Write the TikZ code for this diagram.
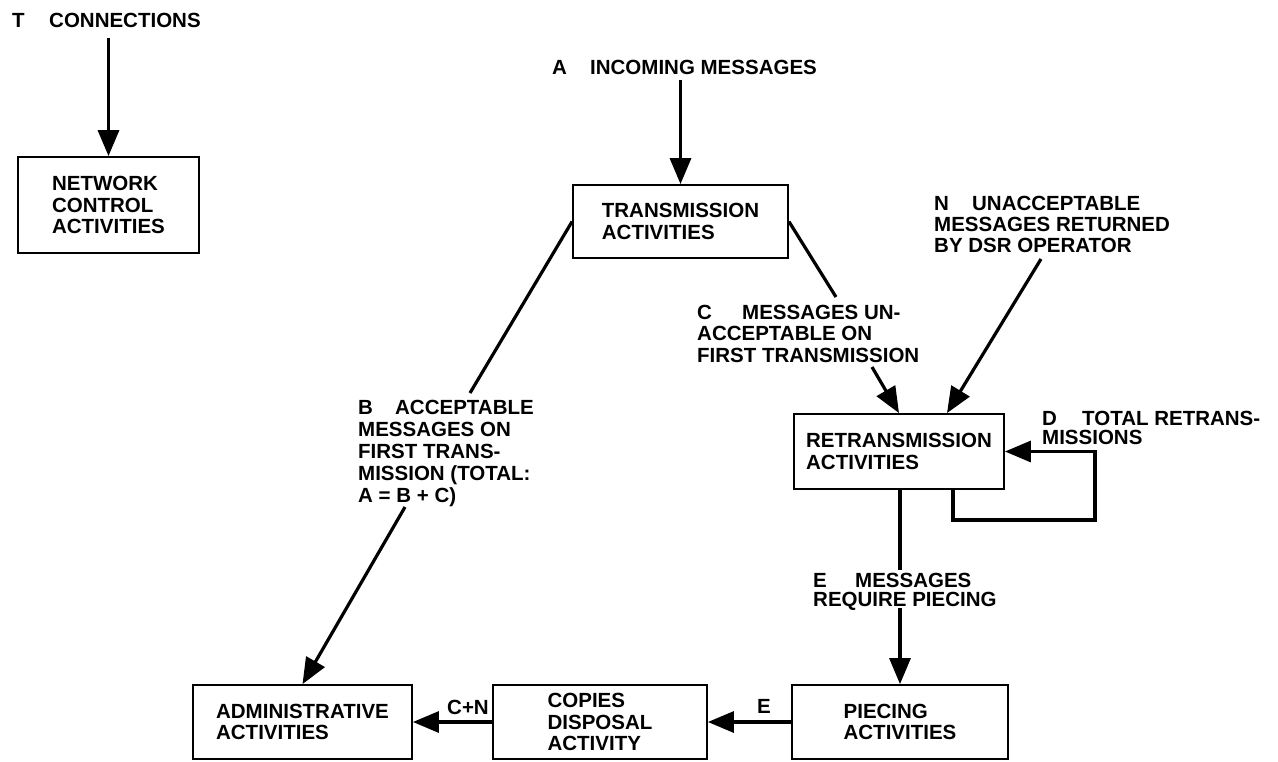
\documentclass[tikz,border=0pt]{standalone}
\usepackage{fontspec}
\setmainfont{Liberation Sans}
\usetikzlibrary{arrows.meta}
\begin{document}
\begin{tikzpicture}[x=1pt,y=-1pt,
  every node/.style={font=\bfseries\fontsize{20.5}{21.5}\selectfont, inner sep=0pt},
  actbox/.style={draw, line width=1.8pt, align=left},
  lbl/.style={anchor=north west, align=left},
  tight/.style={font=\bfseries\fontsize{20.5}{19.5}\selectfont},
  link/.style={line width=3.2pt},
  flow/.style={line width=3.2pt, -{Triangle[length=26pt,width=21pt]}},
]
\useasboundingbox (0,0) rectangle (1278,761);

% activity boxes
\node[actbox, minimum width=181pt, minimum height=96pt] (net) at (108.5,205) {NETWORK\\CONTROL\\ACTIVITIES};
\node[actbox, minimum width=215pt, minimum height=73pt] (trans) at (680.5,221.5) {TRANSMISSION\\ACTIVITIES};
\node[actbox, minimum width=210pt, minimum height=75pt] (retrans) at (899,451.5) {RETRANSMISSION\\ACTIVITIES};
\node[actbox, minimum width=219pt, minimum height=74pt] (admin) at (302.5,722) {ADMINISTRATIVE\\ACTIVITIES};
\node[actbox, minimum width=214pt, minimum height=74pt] (copies) at (600,722) {COPIES\\DISPOSAL\\ACTIVITY};
\node[actbox, minimum width=216pt, minimum height=74pt] (piecing) at (900,722) {PIECING\\ACTIVITIES};

% flow labels
\node[lbl] (tlbl) at (12,12.7) {\makebox[37pt][l]{T}CONNECTIONS};
\node[lbl] (albl) at (552,59.7) {\makebox[38pt][l]{A}INCOMING MESSAGES};
\node[lbl, font=\bfseries\fontsize{20.5}{21}\selectfont] (nlbl) at (934,195.7)
  {\makebox[38pt][l]{N}UNACCEPTABLE\\MESSAGES RETURNED\\BY DSR OPERATOR};
\node[lbl] (clbl) at (697,304.7)
  {\makebox[45pt][l]{C}MESSAGES UN-\\ACCEPTABLE ON\\FIRST TRANSMISSION};
\node[lbl, font=\bfseries\fontsize{20.5}{22}\selectfont] (blbl) at (358,399.7)
  {\makebox[37pt][l]{B}ACCEPTABLE\\MESSAGES ON\\FIRST TRANS-\\MISSION (TOTAL:\\A = B + C)};
\node[lbl, tight] (dlbl) at (1042,410.7) {\makebox[40pt][l]{D}TOTAL RETRANS-\\MISSIONS};
\node[lbl, tight] (elbl) at (813,572.7) {\makebox[42pt][l]{E}MESSAGES\\REQUIRE PIECING};
\node[lbl] (cnlbl) at (447,699.7) {C+N};
\node[lbl] (e2lbl) at (757,698.7) {E};

% free ends and breaks of the connectors
\coordinate (tsrc) at (108.5,38);
\coordinate (asrc) at (680.5,80);
\coordinate (nsrc) at (1041,259);
\coordinate (b1) at (470,393);
\coordinate (b2) at (405,507);
\coordinate (c1) at (836,297);
\coordinate (c2) at (872,367);
\coordinate (e1) at (900,570);
\coordinate (e2) at (900,608);
\coordinate (dloop) at (1095,520);

% connectors
\draw[flow] (tsrc) -- (net.north);
\draw[flow] (asrc) -- (trans.north);
\draw[link] (trans.west) -- (b1);
\draw[flow] (b2) -- (admin.north);
\draw[link] (trans.east) -- (c1);
\draw[flow] (c2) -- (retrans.north);
\draw[flow] (nsrc) -- ([xshift=48pt]retrans.north);
\draw[link] (retrans.south -| piecing.north) -- (e1);
\draw[flow] (e2) -- (piecing.north);
\draw[flow] ([xshift=54pt]retrans.south) |- (dloop) |- (retrans.east);
\draw[flow] (piecing.west) -- (copies.east);
\draw[flow] (copies.west) -- (admin.east);
\end{tikzpicture}
\end{document}
